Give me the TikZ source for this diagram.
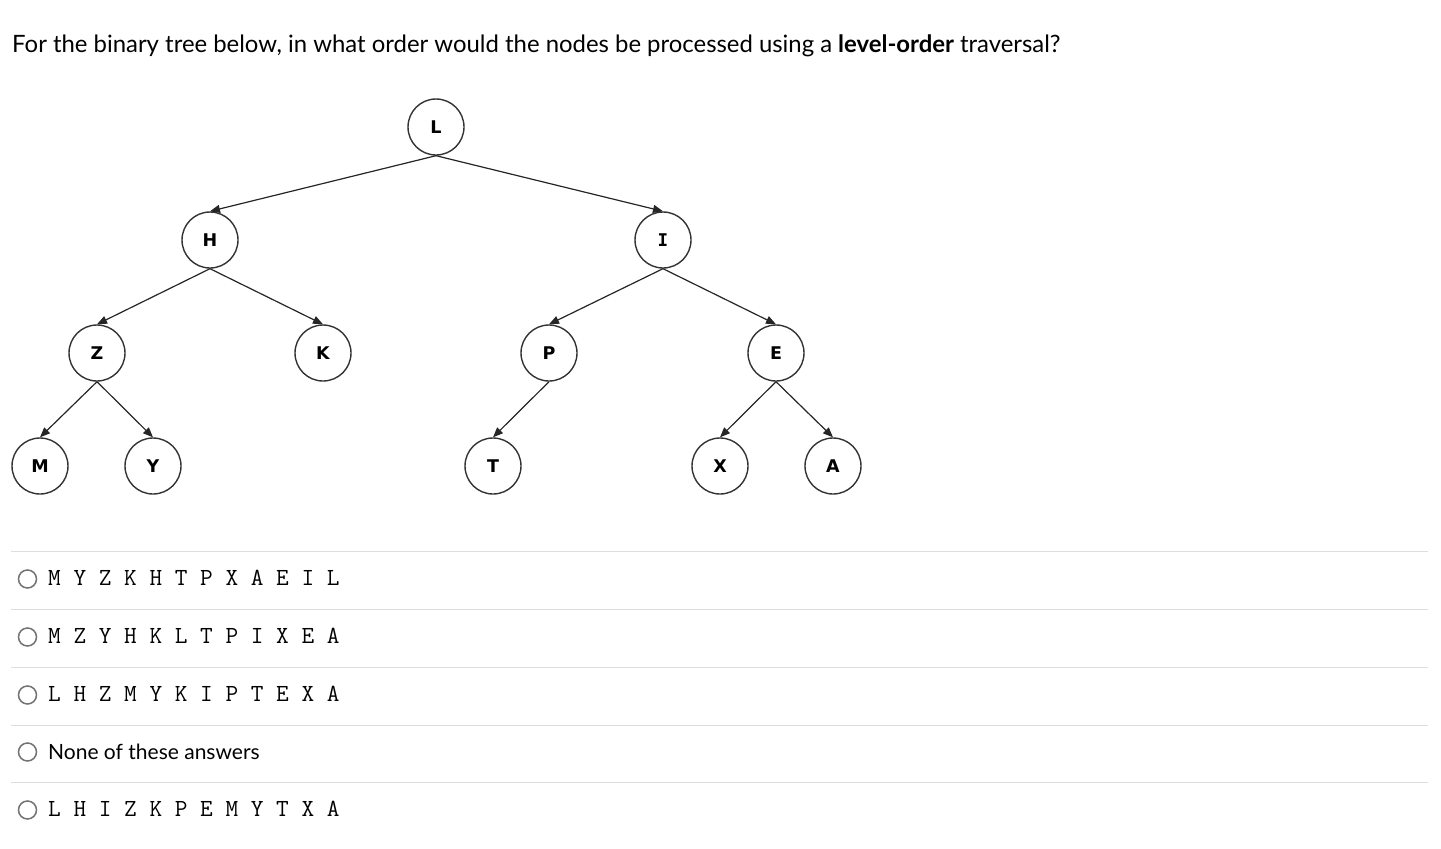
\documentclass[tikz,border=0pt]{standalone}
\usepackage{fontspec}
\setmainfont{Lato}
\newfontfamily\vertfont{DejaVu Sans}
\newfontfamily\vertmono{DejaVu Sans Mono}
\usetikzlibrary{arrows.meta, positioning}

\tikzset{
  vert/.style={circle, draw=black!80, line width=1.4pt, minimum size=56pt, inner sep=0pt,
    font=\vertfont\bfseries\fontsize{17.5}{20}\selectfont},
  link/.style={draw=black!85, line width=1.2pt, -{Triangle[length=10pt,width=8pt]}},
  radio/.style={circle, draw=black!55, line width=1.5pt, minimum size=18pt, inner sep=0pt},
  answer/.style={anchor=base west, inner sep=0pt, font=\ttfamily\fontsize{24.6}{26}\selectfont},
  rule/.style={draw=black!13, line width=1.3pt}
}

\begin{document}
\begin{tikzpicture}[x=1pt, y=-1pt]
  \useasboundingbox[fill=white] (0,0) rectangle (1441,849);

  % question
  \node[anchor=base west, inner sep=0pt, font=\fontsize{23.9}{28}\selectfont] (question) at (12,52)
    {For the binary tree below, in what order would the nodes be processed using a \textbf{level-order} traversal?};

  % tree
  \node[vert] (L) at (436,127) {L};
  \node[vert] (H) at (210,240) {H};
  \node[vert] (I) at (663,240) {\vertmono I};
  \node[vert] (Z) at (97,353) {Z};
  \node[vert] (K) at (323,353) {K};
  \node[vert] (P) at (549,353) {P};
  \node[vert] (E) at (776,353) {E};
  \node[vert] (M) at (40,466) {M};
  \node[vert] (Y) at (153,466) {Y};
  \node[vert] (T) at (493,466) {T};
  \node[vert] (X) at (720,466) {X};
  \node[vert] (A) at (833,466) {A};

  \draw[link] (L.south) -- (H.north);
  \draw[link] (L.south) -- (I.north);
  \draw[link] (H.south) -- (Z.north);
  \draw[link] (H.south) -- (K.north);
  \draw[link] (I.south) -- (P.north);
  \draw[link] (I.south) -- (E.north);
  \draw[link] (Z.south) -- (M.north);
  \draw[link] (Z.south) -- (Y.north);
  \draw[link] (P.south) -- (T.north);
  \draw[link] (E.south) -- (X.north);
  \draw[link] (E.south) -- (A.north);

  % answers
  \foreach \y in {551.5,609.5,667.5,725.5,782.5}
    \draw[rule] (11,\y) -- (1428,\y);

  \node[radio] (radioa) at (27.5,579) {};
  \node[answer] (answera) at (48,585) {M Y Z K H T P X A E I L};
  \node[radio] (radiob) at (27.5,637) {};
  \node[answer] (answerb) at (48,643) {M Z Y H K L T P I X E A};
  \node[radio] (radioc) at (27.5,695) {};
  \node[answer] (answerc) at (48,701) {L H Z M Y K I P T E X A};
  \node[radio] (radiod) at (27.5,752) {};
  \node[anchor=base west, inner sep=0pt, font=\fontsize{21}{24}\selectfont] (answerd) at (48,759) {None of these answers};
  \node[radio] (radioe) at (27.5,810) {};
  \node[answer] (answere) at (48,816) {L H I Z K P E M Y T X A};
\end{tikzpicture}
\end{document}
